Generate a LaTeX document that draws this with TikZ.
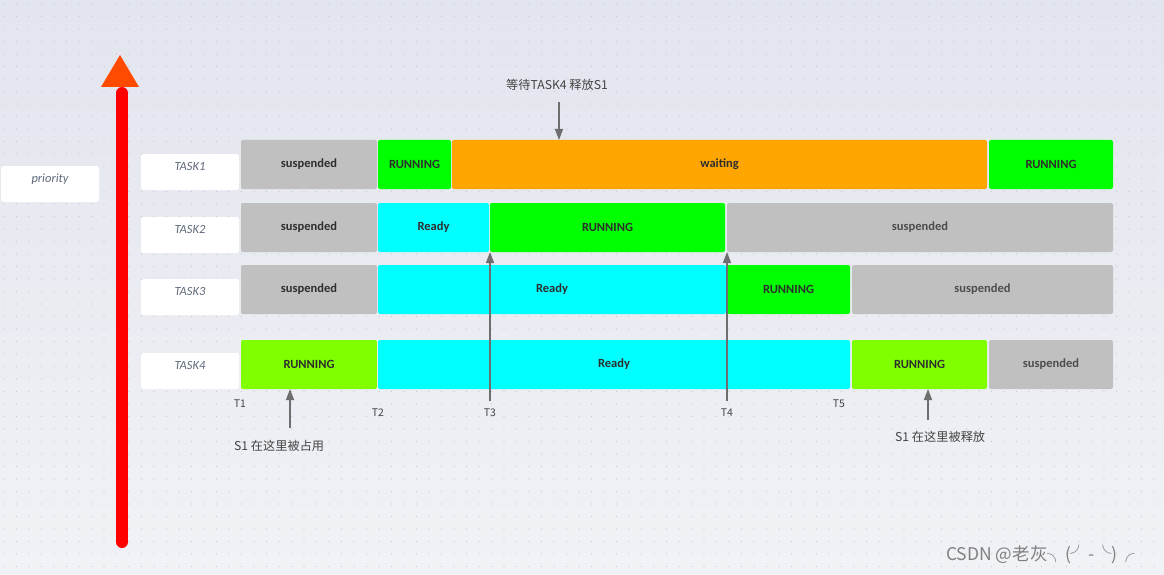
\documentclass[tikz,border=0pt]{standalone}
\usepackage{fontspec}
\setmainfont{Carlito}
\newfontfamily\cjk{Noto Sans CJK SC}
\usetikzlibrary{arrows.meta}
\definecolor{sgray}{HTML}{C0C0C0}
\definecolor{rgreen}{HTML}{00FF00}
\definecolor{chart}{HTML}{80FF00}
\definecolor{rcyan}{HTML}{00FFFF}
\definecolor{rorange}{HTML}{FFA500}
\definecolor{txtdark}{HTML}{2E2E2E}
\definecolor{lbltxt}{HTML}{5F6B7C}
\definecolor{conncol}{HTML}{6E6E6E}
\definecolor{bgtop}{HTML}{E2E5EE}
\definecolor{bgbot}{HTML}{F1F2F6}
\definecolor{dotc}{HTML}{C3C7D2}
\definecolor{arrowhead}{HTML}{FF4A00}
\definecolor{notetxt}{HTML}{444444}
\tikzset{
  bar/.style={anchor=north west, inner sep=0pt, outer sep=0pt, minimum height=49pt,
    rounded corners=2pt, font=\fontsize{12.5}{14}\selectfont\bfseries, text=txtdark},
  lbl/.style={anchor=north west, fill=white, rounded corners=2.5pt, inner sep=0pt, outer sep=0pt,
    minimum width=98pt, minimum height=36pt, text height=8pt, text depth=12pt,
    font=\fontsize{12.5}{14}\selectfont\itshape, text=lbltxt},
  conn/.style={draw=conncol, line width=1.5pt, -{Triangle[width=8pt,length=11pt]}},
  note/.style={font=\cjk\fontsize{12.2}{14}\selectfont, text=notetxt, inner sep=0pt},
  tlab/.style={font=\cjk\fontsize{10.5}{12}\selectfont, text=notetxt, inner sep=0pt},
}
\begin{document}
\begin{tikzpicture}[x=1pt,y=-1pt]
\useasboundingbox (0,0) rectangle (1164,575);
\shade[top color=bgtop, bottom color=bgbot] (0,0) rectangle (1164,575);
\foreach \i in {0,...,92} {
  \foreach \j in {0,...,45} {
    \fill[dotc] (4+\i*12.5, 4+\j*12.5) circle (0.55);
  }
}
% priority arrow
\draw[red, line width=12pt, line cap=round] (122,93) -- (122,542);
\fill[arrowhead] (120,55) -- (139,87) -- (101,87) -- cycle;
\node[lbl] (prio) at (1,166) {priority};
% task labels
\node[lbl] (task1) at (141,154) {TASK1};
\node[lbl] (task2) at (141,217) {TASK2};
\node[lbl] (task3) at (141,279) {TASK3};
\node[lbl] (task4) at (141,353) {TASK4};
% row 1
\node[bar, fill=sgray, minimum width=136pt] (t1s) at (241,140) {suspended};
\node[bar, fill=rgreen, minimum width=73pt] (t1r) at (378,140) {RUNNING};
\node[bar, fill=rorange, minimum width=535pt] (t1w) at (452,140) {waiting};
\node[bar, fill=rgreen, minimum width=124pt] (t1r2) at (989,140) {RUNNING};
% row 2
\node[bar, fill=sgray, minimum width=136pt] (t2s) at (241,203) {suspended};
\node[bar, fill=rcyan, minimum width=111pt] (t2rd) at (378,203) {Ready};
\node[bar, fill=rgreen, minimum width=235pt] (t2r) at (490,203) {RUNNING};
\node[bar, fill=sgray, minimum width=386pt, text=txtdark!85] (t2s2) at (727,203) {suspended};
% row 3
\node[bar, fill=sgray, minimum width=136pt] (t3s) at (241,265) {suspended};
\node[bar, fill=rcyan, minimum width=348pt] (t3rd) at (378,265) {Ready};
\node[bar, fill=rgreen, minimum width=123pt] (t3r) at (727,265) {RUNNING};
\node[bar, fill=sgray, minimum width=261pt, text=txtdark!85] (t3s2) at (852,265) {suspended};
% row 4
\node[bar, fill=chart, minimum width=136pt] (t4r) at (241,340) {RUNNING};
\node[bar, fill=rcyan, minimum width=472pt] (t4rd) at (378,340) {Ready};
\node[bar, fill=chart, minimum width=135pt] (t4r2) at (852,340) {RUNNING};
\node[bar, fill=sgray, minimum width=124pt, text=txtdark!85] (t4s) at (989,340) {suspended};
% notes
\node[note] (nwait) at (557,85) {等待TASK4 释放S1};
\node[note, anchor=west] (nocc) at (234,446) {S1 在这里被占用};
\node[note, anchor=west] (nrel) at (895,437) {S1 在这里被释放};
% time labels
\node[tlab] (T1) at (240,404) {T1};
\node[tlab] (T2) at (378,413) {T2};
\node[tlab] (T3) at (490,413) {T3};
\node[tlab] (T4) at (727,413) {T4};
\node[tlab] (T5) at (839,404) {T5};
% connectors
\coordinate (cw) at (559,102);
\draw[conn] (cw) -- (cw |- t1w.north);
\coordinate (c3) at (490,401);
\draw[conn] (c3) -- (t2r.south west);
\coordinate (c4) at (727,401);
\draw[conn] (c4) -- (t2s2.south west);
\coordinate (cocc) at (290,428);
\draw[conn] (cocc) -- (cocc |- t4r.south);
\coordinate (crel) at (928,420);
\draw[conn] (crel) -- (crel |- t4r2.south);
% watermark
\node[anchor=west, inner sep=0pt, font=\cjk\fontsize{17.5}{19}\selectfont, text=black!50] (wm) at (946,555) {CSDN @老灰╮(╯-╰)╭};
\end{tikzpicture}
\end{document}
